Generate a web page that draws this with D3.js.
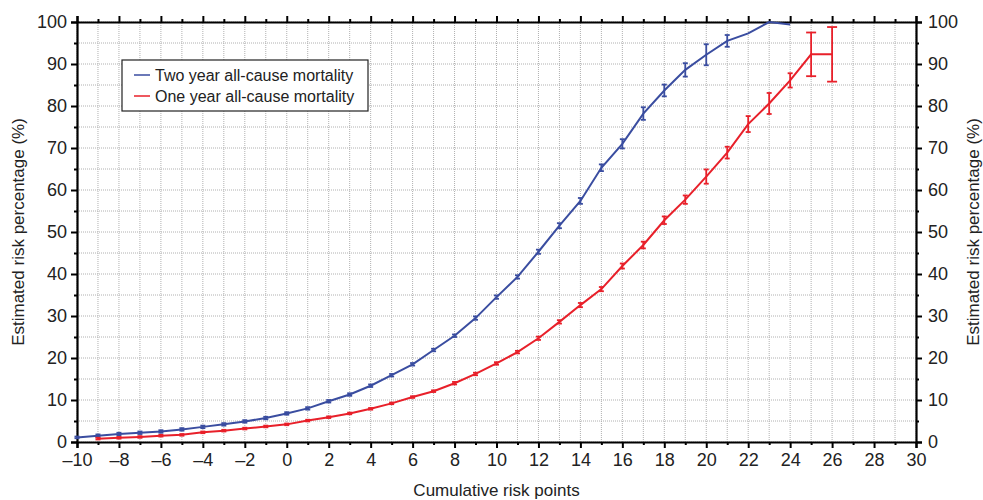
<html>
<head>
  <title>Estimated risk</title>
  <script src="https://d3js.org/d3.v7.min.js" charset="utf-8"></script>
  <style>
    body { margin: 0; background: #fff; }
    text { font-family: "Liberation Sans", Arial, sans-serif; fill: #222; }
  </style>
</head>
<body>
<script>
  // two year all-cause mortality
  var twoYearX   = [-10,-9,-8,-7,-6,-5,-4,-3,-2,-1,0,1,2,3,4,5,6,7,8,9,10,11,12,13,14,15,16,17,18,19,20,21,22,23,24];
  var twoYearY   = [1.1,1.5,1.9,2.2,2.5,3.0,3.6,4.2,4.9,5.7,6.8,8.0,9.7,11.3,13.4,15.9,18.5,21.9,25.3,29.5,34.5,39.3,45.3,51.5,57.4,65.3,71.0,78.2,83.7,88.6,92.2,95.5,97.3,100,99.4];
  var twoYearErr = [0.2,0.3,0.3,0.3,0.3,0.3,0.3,0.3,0.3,0.3,0.3,0.3,0.3,0.3,0.3,0.3,0.3,0.3,0.3,0.4,0.4,0.4,0.5,0.6,0.7,0.8,1.1,1.5,1.4,1.6,2.5,1.4,0,0,0];

  // one year all-cause mortality
  var oneYearX   = [-9,-8,-7,-6,-5,-4,-3,-2,-1,0,1,2,3,4,5,6,7,8,9,10,11,12,13,14,15,16,17,18,19,20,21,22,23,24,25,26];
  var oneYearY   = [0.8,1.0,1.2,1.5,1.7,2.3,2.7,3.2,3.7,4.2,5.1,5.9,6.8,7.9,9.2,10.7,12.1,14.0,16.2,18.7,21.4,24.7,28.6,32.6,36.4,41.9,46.9,52.8,57.7,63.2,68.9,75.7,80.6,86.1,92.3,92.3];
  var oneYearErr = [0.2,0.2,0.2,0.2,0.2,0.2,0.2,0.2,0.2,0.2,0.2,0.2,0.2,0.2,0.2,0.2,0.2,0.3,0.3,0.3,0.3,0.4,0.4,0.5,0.5,0.6,0.8,0.9,1.0,1.7,1.4,1.9,2.5,1.7,5.2,6.5];

  var xTicks = d3.range(-10, 31, 1);
  var yTicks = d3.range(0, 101, 5);
  var seriesNames = ["Two year all-cause mortality", "One year all-cause mortality"];
  var seriesColors = ["#3a4da0", "#e8202a"];

  var width = 983, height = 500;
  var margin = {left: 77, right: 67, top: 22, bottom: 58};

  var svg = d3.select("body").append("svg")
              .attr("width", width)
              .attr("height", height);

  var x = d3.scaleLinear().domain([-10, 30]).range([margin.left, width - margin.right]);
  var y = d3.scaleLinear().domain([0, 100]).range([height - margin.bottom, margin.top]);

  // dotted grid
  var grid = svg.append("g");
  grid.selectAll(".vg").data(xTicks).enter().append("line")
      .attr("x1", function(d){ return x(d); }).attr("x2", function(d){ return x(d); })
      .attr("y1", y(0)).attr("y2", y(100))
      .attr("stroke", "#b0b0b0").attr("stroke-dasharray", "1,1");
  grid.selectAll(".hg").data(yTicks).enter().append("line")
      .attr("y1", function(d){ return y(d); }).attr("y2", function(d){ return y(d); })
      .attr("x1", x(-10)).attr("x2", x(30))
      .attr("stroke", "#b0b0b0").attr("stroke-dasharray", "1,1");

  function xFmt(d) { return d % 2 === 0 ? (d < 0 ? "\u2013" + (-d) : d) : ""; }
  function yFmt(d) { return d % 10 === 0 ? d : ""; }

  var axes = [
    svg.append("g").attr("transform", "translate(0," + y(0) + ")")
       .call(d3.axisBottom(x).tickValues(xTicks).tickFormat(xFmt).tickSize(6).tickPadding(5)),
    svg.append("g").attr("transform", "translate(0," + y(100) + ")")
       .call(d3.axisTop(x).tickValues(xTicks).tickFormat("").tickSize(6)),
    svg.append("g").attr("transform", "translate(" + x(-10) + ",0)")
       .call(d3.axisLeft(y).tickValues(yTicks).tickFormat(yFmt).tickSize(6).tickPadding(4)),
    svg.append("g").attr("transform", "translate(" + x(30) + ",0)")
       .call(d3.axisRight(y).tickValues(yTicks).tickFormat(yFmt).tickSize(6).tickPadding(6))
  ];
  axes.forEach(function(a){
    a.select(".domain").attr("stroke", "#000").attr("stroke-width", 2.2);
    a.selectAll(".tick line").attr("stroke", "#000").attr("stroke-width", 2);
    // unlabeled ticks are shorter
    a.selectAll(".tick").filter(function(d){ return (a === axes[0] || a === axes[1]) ? d % 2 !== 0 : d % 10 !== 0; })
     .select("line").each(function(){
       var l = d3.select(this);
       if (l.attr("x2")) l.attr("x2", +l.attr("x2") / 2);
       if (l.attr("y2")) l.attr("y2", +l.attr("y2") / 2);
     });
    a.selectAll("text").style("font-size", "18px").attr("fill", "#222");
  });

  var line = d3.line().x(function(d){ return x(d.x); }).y(function(d){ return y(d.y); });

  var series = [
    {x: twoYearX, y: twoYearY, e: twoYearErr},
    {x: oneYearX, y: oneYearY, e: oneYearErr}
  ];

  series.forEach(function(s, i){
    var pts = s.x.map(function(v, j){ return {x: v, y: s.y[j], e: s.e[j]}; });
    var g = svg.append("g");
    g.append("path").datum(pts).attr("d", line)
     .attr("fill", "none").attr("stroke", seriesColors[i]).attr("stroke-width", 2);
    var eb = g.selectAll(".eb").data(pts.filter(function(d){ return d.e > 0; })).enter().append("g")
              .attr("stroke", seriesColors[i]).attr("stroke-width", 1.8);
    eb.append("line")
      .attr("x1", function(d){ return x(d.x); }).attr("x2", function(d){ return x(d.x); })
      .attr("y1", function(d){ return y(d.y - d.e); }).attr("y2", function(d){ return y(d.y + d.e); });
    [-1, 1].forEach(function(sign){
      eb.append("line")
        .attr("x1", function(d){ return x(d.x) - (d.e > 4 ? 5 : 2.5); })
        .attr("x2", function(d){ return x(d.x) + (d.e > 4 ? 5 : 2.5); })
        .attr("y1", function(d){ return y(d.y + sign * d.e); })
        .attr("y2", function(d){ return y(d.y + sign * d.e); });
    });
  });

  // legend
  var lg = svg.append("g").attr("transform", "translate(122,60)");
  lg.append("rect").attr("width", 246).attr("height", 51)
    .attr("fill", "#fff").attr("stroke", "#222").attr("stroke-width", 1.2);
  seriesNames.forEach(function(n, i){
    lg.append("line").attr("x1", 12).attr("x2", 28).attr("y1", 15 + i * 21).attr("y2", 15 + i * 21)
      .attr("stroke", seriesColors[i]).attr("stroke-width", 1.5);
    lg.append("text").attr("x", 33).attr("y", 21 + i * 21).style("font-size", "16px").text(n);
  });

  // titles
  svg.append("text").attr("x", (x(-10) + x(30)) / 2).attr("y", 496)
     .attr("text-anchor", "middle").style("font-size", "17px").text("Cumulative risk points");
  svg.append("text").attr("transform", "translate(24," + y(50) + ") rotate(-90)")
     .attr("text-anchor", "middle").style("font-size", "17px").text("Estimated risk percentage (%)");
  svg.append("text").attr("transform", "translate(979," + y(50) + ") rotate(-90)")
     .attr("text-anchor", "middle").style("font-size", "17px").text("Estimated risk percentage (%)");
</script>
</body>
</html>
